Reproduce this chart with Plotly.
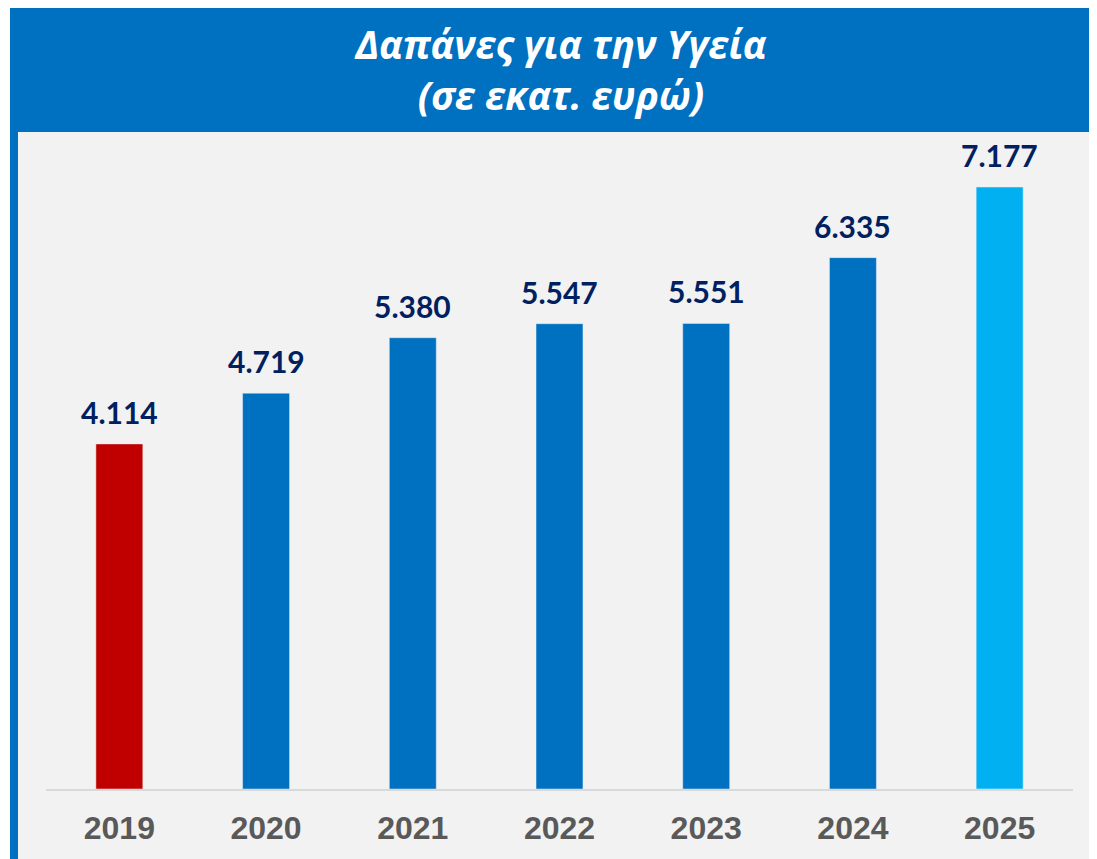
import plotly.graph_objects as go

# datos
anios = ['2019', '2020', '2021', '2022', '2023', '2024', '2025']
gasto = [4114, 4719, 5380, 5547, 5551, 6335, 7177]
etiquetas = ['4.114', '4.719', '5.380', '5.547', '5.551', '6.335', '7.177']
colores = ['#c00000', '#0070c0', '#0070c0', '#0070c0', '#0070c0', '#0070c0', '#00b0f0']

# la pagina tiene 8px de margen en el body
W, H = 1089, 851
ML, MR, MT, MB = 38, 24, 124, 70
pw = W - ML - MR
ph = H - MT - MB


# pixeles -> coordenadas paper
def px(x):
    return (x - ML) / pw


def py(y):
    return (H - MB - y) / ph


fig = go.Figure()
fig.add_trace(go.Bar(x=anios, y=gasto, marker=dict(color=colores),
                     hoverinfo='x+y'))

# etiquetas sobre las barras (x como indice de categoria)
for i, (v, t) in enumerate(zip(gasto, etiquetas)):
    fig.add_annotation(x=i, y=v, text='<b>' + t + '</b>', showarrow=False,
                       yanchor='bottom', yshift=12,
                       font=dict(family='Lato', size=30, color='#002060'))

shapes = [
    # franja blanca izquierda
    dict(x0=px(0), x1=px(2), y0=py(H), y1=py(0), fillcolor='white'),
    # cabecera azul
    dict(x0=px(2), x1=px(W), y0=py(124), y1=py(0), fillcolor='#0070c0'),
    # borde azul izquierdo
    dict(x0=px(2), x1=px(10), y0=py(H), y1=py(0), fillcolor='#0070c0'),
]
for s in shapes:
    fig.add_shape(type='rect', xref='paper', yref='paper', line=dict(width=0),
                  layer='below', **s)

fig.update_layout(
    width=W, height=H,
    margin=dict(l=ML, r=MR, t=MT, b=MB, autoexpand=False),
    paper_bgcolor='#f2f2f2', plot_bgcolor='#f2f2f2',
    bargap=0.68, showlegend=False,
    title=dict(text='<b><i>Δαπάνες για την Υγεία<br>(σε εκατ. ευρώ)</i></b>',
               x=553 / W, xanchor='center', y=1 - 51 / H, yanchor='middle',
               font=dict(family='Open Sans', size=39, color='white')),
    xaxis=dict(type='category', automargin=False,
               showline=True, linecolor='#d9d9d9', linewidth=2, showgrid=False,
               ticks='outside', ticklen=10, tickcolor='rgba(0,0,0,0)',
               tickfont=dict(family='Liberation Sans', size=32, color='#595959')),
    yaxis=dict(range=[0, 7177 * ph / 602], visible=False, showgrid=False,
               zeroline=False),
)
fig.update_xaxes(tickvals=anios, ticktext=['<b>' + a + '</b>' for a in anios])

fig.write_html("out.html")
